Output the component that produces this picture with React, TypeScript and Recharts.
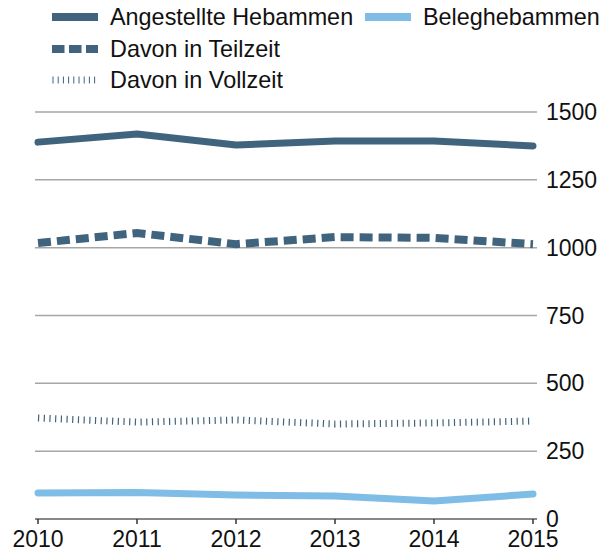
import React from "react";
import { LineChart, Line, XAxis, YAxis, CartesianGrid } from "recharts";

const years = ["2010", "2011", "2012", "2013", "2014", "2015"];
const angestellte = [1389, 1419, 1378, 1393, 1393, 1375];
const teilzeit = [1017, 1054, 1013, 1039, 1036, 1013];
const vollzeit = [372, 357, 365, 350, 354, 361];
const beleg = [96, 98, 88, 85, 66, 92];
const yTicks = [0, 250, 500, 750, 1000, 1250, 1500];

const DARK = "#41647e";
const LIGHT = "#80bde6";
const GRID = "#a6a6a6";
const FONT = "'Liberation Sans', Arial, sans-serif";

const data = years.map((y, i) => ({
  year: y,
  angestellte: angestellte[i],
  teilzeit: teilzeit[i],
  vollzeit: vollzeit[i],
  beleg: beleg[i],
}));

function LegendItem({ left, top, label, icon }: { left: number; top: number; label: string; icon: React.ReactNode }) {
  return (
    <div style={{ position: "absolute", left, top, height: 30, display: "flex", alignItems: "center" }}>
      <svg width={47} height={12} style={{ marginRight: 11 }}>
        {icon}
      </svg>
      <span style={{ fontFamily: FONT, fontSize: 23.4, color: "#111", whiteSpace: "nowrap" }}>{label}</span>
    </div>
  );
}

export default function App() {
  return (
    <div style={{ position: "absolute", left: 0, top: 0, width: 602, height: 552, background: "#fff" }}>
      <LegendItem
        left={52}
        top={2}
        label="Angestellte Hebammen"
        icon={<line x1={0} x2={46} y1={6} y2={6} stroke={DARK} strokeWidth={8} />}
      />
      <LegendItem
        left={365}
        top={2}
        label="Beleghebammen"
        icon={<line x1={0} x2={46} y1={6} y2={6} stroke={LIGHT} strokeWidth={8} />}
      />
      <LegendItem
        left={52}
        top={34}
        label="Davon in Teilzeit"
        icon={<line x1={0} x2={46} y1={6} y2={6} stroke={DARK} strokeWidth={8} strokeDasharray="12.5 4.5" />}
      />
      <LegendItem
        left={52}
        top={65}
        label="Davon in Vollzeit"
        icon={<line x1={0.5} x2={46} y1={6} y2={6} stroke={DARK} strokeWidth={7} strokeDasharray="1 4.2" />}
      />
      <LineChart
        width={602}
        height={552}
        data={data}
        margin={{ top: 112, right: 0, left: 35, bottom: 0 }}
        style={{ position: "absolute", left: 0, top: 0 }}
      >
        <CartesianGrid vertical={false} stroke={GRID} strokeWidth={1.5} />
        <XAxis
          dataKey="year"
          padding={{ left: 3, right: 4 }}
          axisLine={{ stroke: "#777", strokeWidth: 1.5 }}
          tickLine={{ stroke: "#333", strokeWidth: 1.5 }}
          tickSize={5}
          tickMargin={7}
          height={33}
          interval={0}
          tick={{ fontFamily: FONT, fontSize: 23, fill: "#111" }}
        />
        <YAxis
          orientation="right"
          domain={[0, 1500]}
          ticks={yTicks}
          axisLine={false}
          tickLine={false}
          tickMargin={3}
          width={65}
          tick={{ fontFamily: FONT, fontSize: 23, fill: "#111", textAnchor: "start" }}
        />
        <Line
          dataKey="angestellte"
          stroke={DARK}
          strokeWidth={7}
          strokeLinecap="round"
          strokeLinejoin="round"
          dot={false}
          isAnimationActive={false}
        />
        <Line
          dataKey="teilzeit"
          stroke={DARK}
          strokeWidth={8}
          strokeDasharray="13 6"
          dot={false}
          isAnimationActive={false}
        />
        <Line
          dataKey="vollzeit"
          stroke={DARK}
          strokeWidth={7}
          strokeDasharray="1.2 4.5"
          dot={false}
          isAnimationActive={false}
        />
        <Line
          dataKey="beleg"
          stroke={LIGHT}
          strokeWidth={7}
          strokeLinecap="round"
          strokeLinejoin="round"
          dot={false}
          isAnimationActive={false}
        />
      </LineChart>
    </div>
  );
}
